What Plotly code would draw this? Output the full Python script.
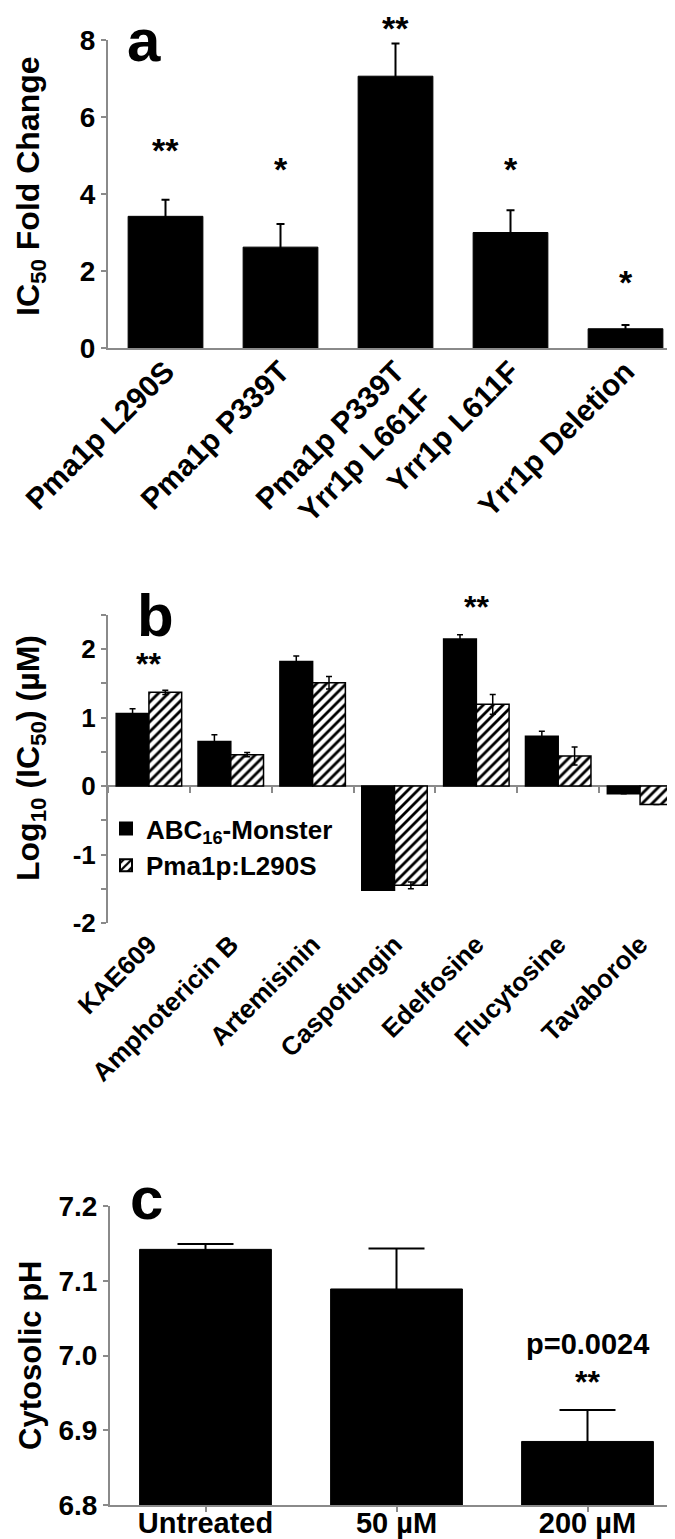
import plotly.graph_objects as go

W, H = 675, 1539

# ---------------- data ----------------
cats_a = ["Pma1p L290S", "Pma1p P339T", "Pma1p P339T<br>Yrr1p L661F", "Yrr1p L611F", "Yrr1p Deletion"]
fold_a = [3.42, 2.62, 7.06, 3.00, 0.50]
err_a = [0.43, 0.60, 0.85, 0.58, 0.10]
stars_a = ["**", "*", "**", "*", "*"]
star_y_a = [5.15, 4.65, 8.32, 4.65, 1.72]

cats_b = ["KAE609", "Amphotericin B", "Artemisinin", "Caspofungin", "Edelfosine", "Flucytosine", "Tavaborole"]
abc16 = [1.06, 0.65, 1.82, -1.52, 2.15, 0.73, -0.11]
abc16_err = [0.07, 0.10, 0.08, 0.0, 0.06, 0.07, 0.0]
pma_l290s = [1.37, 0.46, 1.51, -1.45, 1.195, 0.44, -0.27]
pma_l290s_err = [0.03, 0.03, 0.09, 0.05, 0.145, 0.13, 0.0]
stars_b = {"KAE609": ("**", 1.78), "Edelfosine": ("**", 2.62)}
ticks_b = [-2, -1, 0, 1, 2]
ticklabels_b = ["-2", "-1", "0", "1", "2"]

cats_c = ["Untreated", "50 µM", "200 µM"]
ph_c = [7.142, 7.089, 6.885]
ph_err = [0.007, 0.054, 0.042]
pval_c = "p=0.0024"

# ---------------- style ----------------
FONT = "Liberation Sans, Arial, Helvetica, sans-serif"
AX = "#8a8a8a"

A_TOP, A_BOT = 32, 340
B_TOP, B_BOT = 607, 915
B_MIN, B_MAX = -2.0, 2.5


def py(px):
    return 1 - px / H


def pxx(px):
    return px / W


def fpx_a(v):
    # panel a y-value -> paper y (for annotations above the axis range)
    return py(A_BOT - (A_BOT - A_TOP) * v / 8.0)


def fpx_b(v):
    return py(B_BOT - (B_BOT - B_TOP) * (v - B_MIN) / (B_MAX - B_MIN))


fig = go.Figure()

# panel a
fig.add_trace(go.Bar(
    x=cats_a, y=fold_a, width=0.65, marker=dict(color="black", line=dict(color="black", width=1)),
    error_y=dict(type="data", array=err_a, color="black", thickness=2, width=4),
    xaxis="x", yaxis="y", showlegend=False))

# panel b
fig.add_trace(go.Bar(
    x=cats_b, y=abc16, name="ABC<sub>16</sub>-Monster", width=0.4, offset=-0.4,
    marker=dict(color="black", line=dict(color="black", width=1.5)),
    error_y=dict(type="data", array=abc16_err, color="black", thickness=1.5, width=3),
    xaxis="x2", yaxis="y2", showlegend=True))
fig.add_trace(go.Bar(
    x=cats_b, y=pma_l290s, name="Pma1p:L290S", width=0.4, offset=0.0,
    marker=dict(color="white", line=dict(color="black", width=1.5),
                pattern=dict(shape="/", fgcolor="black", bgcolor="white", size=7, solidity=0.4)),
    error_y=dict(type="data", array=pma_l290s_err, color="black", thickness=1.5, width=3),
    xaxis="x2", yaxis="y2", showlegend=True))
# empty helper trace so the zero-line tick axis of panel b is drawn
fig.add_trace(go.Scatter(x=[], y=[], xaxis="x4", yaxis="y2", showlegend=False, hoverinfo="skip"))

# panel c
fig.add_trace(go.Bar(
    x=cats_c, y=ph_c, width=0.69, marker=dict(color="black", line=dict(color="black", width=1)),
    error_y=dict(type="data", array=ph_err, color="black", thickness=2, width=28),
    xaxis="x3", yaxis="y3", showlegend=False))

bold = dict(family=FONT, color="black", weight="bold")

fig.update_layout(
    template="none",
    width=W, height=H, autosize=False,
    margin=dict(l=0, r=0, t=0, b=0, pad=0),
    paper_bgcolor="white", plot_bgcolor="white",
    barmode="overlay",
    font=dict(family=FONT, color="black"),
    xaxis=dict(domain=[pxx(100), 1.0], anchor="y", type="category", automargin=False,
               showline=True, linecolor=AX, linewidth=2, ticks="",
               tickangle=-45, tickfont=dict(size=30, **bold), showgrid=False,
               ticklabelstandoff=-8, range=[-0.5, 4.5]),
    yaxis=dict(domain=[py(A_BOT), py(A_TOP)], anchor="x", range=[0, 8], dtick=2, automargin=False,
               showline=True, linecolor=AX, linewidth=2, ticks="outside", ticklen=5,
               tickcolor=AX, tickwidth=2, tickfont=dict(size=28, **bold), showgrid=False,
               zeroline=False),
    xaxis2=dict(domain=[pxx(100), pxx(673)], anchor="y2", type="category", automargin=False,
                showline=False, ticks="", tickangle=-45,
                tickfont=dict(size=26, **bold), showgrid=False, range=[-0.5, 6.5]),
    xaxis4=dict(domain=[pxx(100), pxx(673)], overlaying="x2", anchor="free",
                position=fpx_b(0), type="linear", range=[-0.5, len(cats_b) - 0.5],
                tickmode="linear", tick0=0.5, dtick=1, ticks="outside", ticklen=6,
                tickcolor=AX, tickwidth=2, showticklabels=False, showline=False,
                showgrid=False, zeroline=False, automargin=False, fixedrange=True),
    yaxis2=dict(domain=[py(B_BOT), py(B_TOP)], anchor="x2", range=[B_MIN, B_MAX], automargin=False,
                tickvals=ticks_b, ticktext=ticklabels_b,
                minor=dict(dtick=0.5, tick0=0, ticks="outside", ticklen=5, tickcolor=AX,
                           tickwidth=2, showgrid=False),
                showline=True, linecolor=AX, linewidth=2, ticks="outside", ticklen=5,
                tickcolor=AX, tickwidth=2, tickfont=dict(size=26, **bold), showgrid=False,
                zeroline=True, zerolinecolor=AX, zerolinewidth=2),
    xaxis3=dict(domain=[pxx(102), 1.0], anchor="y3", type="category", automargin=False,
                showline=True, linecolor=AX, linewidth=2, ticks="outside", ticklen=5,
                tickcolor=AX, tickwidth=2, tickfont=dict(size=29, **bold), showgrid=False,
                ticklabelstandoff=-14, range=[-0.5, 2.5]),
    yaxis3=dict(domain=[py(1497), py(1198)], anchor="x3", range=[6.8, 7.2], dtick=0.1,
                automargin=False,
                tickformat=".1f", showline=True, linecolor=AX, linewidth=2,
                ticks="outside", ticklen=5, tickcolor=AX, tickwidth=2,
                tickfont=dict(size=28, **bold), showgrid=False, zeroline=False),
    legend=dict(x=pxx(98), y=py(797), xanchor="left", yanchor="top",
                bgcolor="rgba(0,0,0,0)", font=dict(size=26, **bold),
                traceorder="normal", itemsizing="constant", tracegroupgap=0),
)

ann = []


def add(text, x, y, xref="paper", yref="paper", size=28, angle=0):
    ann.append(dict(text=text, x=x, y=y, xref=xref, yref=yref, xanchor="center", yanchor="middle",
                    textangle=angle, showarrow=False, font=dict(size=size, **bold)))


# y-axis titles
add("IC<sub>50</sub> Fold Change", pxx(22), py(178), size=32, angle=-90)
add("Log<sub>10</sub> (IC<sub>50</sub>) (µM)", pxx(22), py(750), size=32, angle=-90)
add("Cytosolic pH", pxx(22), py(1348), size=31, angle=-90)
# panel letters
for letter, cx, cy in [("a", 136, 33), ("b", 147, 607), ("c", 138, 1190)]:
    add(letter, pxx(cx), py(cy), size=60)
# stars panel a
for c, s, yv in zip(cats_a, stars_a, star_y_a):
    add(s, c, fpx_a(yv), xref="x", size=34)
# stars panel b
for c, (s, yv) in stars_b.items():
    add(s, c, fpx_b(yv), xref="x2", size=32)
# panel c annotations
add("**", cats_c[2], 6.965, xref="x3", yref="y3", size=32)
add(pval_c, cats_c[2], 7.016, xref="x3", yref="y3", size=29)

fig.update_layout(annotations=ann)
fig.write_html("out.html")
